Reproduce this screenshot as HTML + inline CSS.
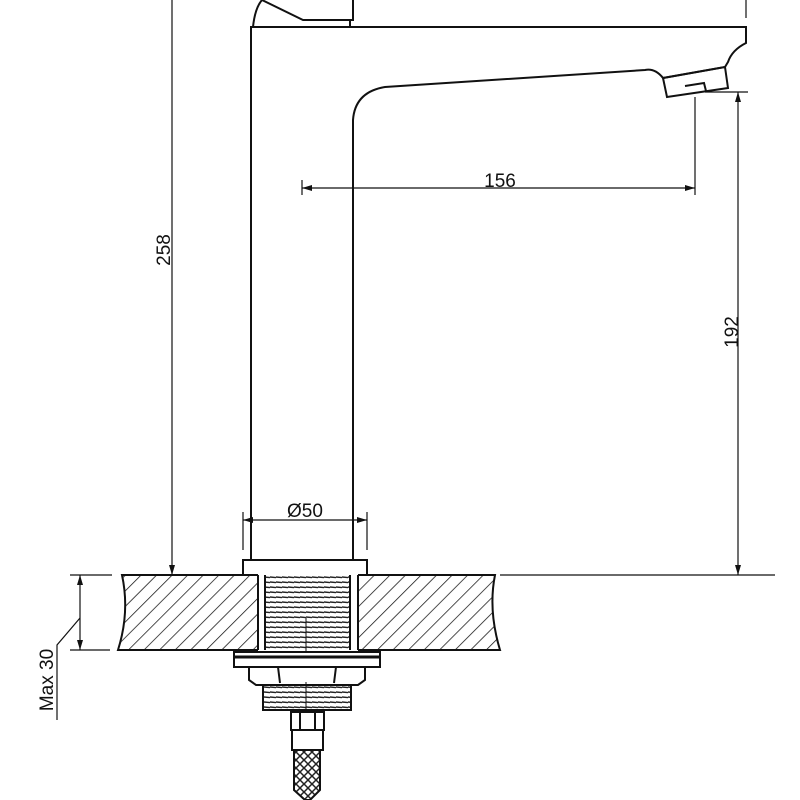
<!DOCTYPE html>
<html><head><meta charset="utf-8"><style>html,body{margin:0;background:#fff}svg{display:block}</style></head><body>
<svg width="800" height="800" viewBox="0 0 800 800" xmlns="http://www.w3.org/2000/svg" font-family="Liberation Sans, sans-serif">
<defs>
<pattern id="h" width="11" height="11" patternUnits="userSpaceOnUse" patternTransform="rotate(45)">
<line x1="0" y1="0" x2="0" y2="11" stroke="#111" stroke-width="1.5"/></pattern>
<pattern id="t" width="6" height="5" patternUnits="userSpaceOnUse">
<line x1="0" y1="2" x2="6" y2="2.6" stroke="#222" stroke-width="1.4"/></pattern>
<pattern id="x" width="8" height="8" patternUnits="userSpaceOnUse">
<path d="M0 0L8 8M8 0L0 8" stroke="#222" stroke-width="1.5"/></pattern>
<marker id="a" markerWidth="10" markerHeight="6" refX="10" refY="3" orient="auto-start-reverse" markerUnits="userSpaceOnUse"><path d="M0 0L10 3L0 6z" fill="#111"/></marker>
</defs>
<g fill="none" stroke="#111" stroke-width="2">
<path d="M253 27 Q255 8 262 0"/>
<path d="M262 0 L303 20 L353 20 L353 0"/>
<path d="M350 20 L350 27"/>
<path d="M251 560 L251 27 L746 27 L746 43 Q732 50 728 62 L725 67 L663 78 Q655 68 645 70 L385 87 Q355 92 353 120 L353 560"/>
<path d="M663 78 L725 67 L728 88 L667 97 Z"/>
<path d="M685 86 L704 83 L706 91"/>
<rect x="243" y="560" width="124" height="15" fill="#fff"/>
</g>
<g stroke="#111" stroke-width="1.2" fill="none">
<line x1="746" y1="0" x2="746" y2="18"/>
<line x1="172" y1="0" x2="172" y2="575" marker-end="url(#a)"/>
<line x1="705" y1="92" x2="748" y2="92"/>
<line x1="738" y1="92" x2="738" y2="575" marker-start="url(#a)" marker-end="url(#a)"/>
<line x1="302" y1="180" x2="302" y2="195"/>
<line x1="695" y1="97" x2="695" y2="195"/>
<line x1="302" y1="188" x2="695" y2="188" marker-start="url(#a)" marker-end="url(#a)"/>
<line x1="243" y1="512" x2="243" y2="550"/>
<line x1="367" y1="512" x2="367" y2="550"/>
<line x1="243" y1="520" x2="367" y2="520" marker-start="url(#a)" marker-end="url(#a)"/>
<line x1="70" y1="575" x2="112" y2="575"/>
<line x1="70" y1="650" x2="110" y2="650"/>
<line x1="80" y1="575" x2="80" y2="650" marker-start="url(#a)" marker-end="url(#a)"/>
<path d="M80 618 L57 645 L57 720"/>
<line x1="500" y1="575" x2="775" y2="575"/>
</g>
<path d="M122 575 L495 575 Q488 610 500 650 L118 650 Q130 612 122 575Z" fill="url(#h)" stroke="#111" stroke-width="2"/>
<rect x="258" y="574" width="100" height="77" fill="#fff"/>
<rect x="265" y="576" width="85" height="74" fill="url(#t)"/>
<g stroke="#111" stroke-width="2" fill="none">
<line x1="258" y1="575" x2="258" y2="650"/><line x1="265" y1="575" x2="265" y2="650"/>
<line x1="350" y1="575" x2="350" y2="650"/><line x1="358" y1="575" x2="358" y2="650"/>
<line x1="306" y1="618" x2="306" y2="652" stroke-width="1"/>
<rect x="234" y="652" width="146" height="15" fill="#fff"/>
<line x1="234" y1="657" x2="380" y2="657" stroke-width="3"/>
<path d="M249 667 L249 680 L256 685 L358 685 L365 680 L365 667"/>
<line x1="278" y1="667" x2="280" y2="683"/><line x1="336" y1="667" x2="334" y2="683"/>
<rect x="263" y="685" width="88" height="25" fill="url(#t)"/>
<line x1="306" y1="682" x2="306" y2="710" stroke-width="1"/>
<rect x="291" y="712" width="33" height="18" fill="#fff"/>
<line x1="300" y1="712" x2="300" y2="730"/><line x1="315" y1="712" x2="315" y2="730"/>
<rect x="292" y="730" width="31" height="20" fill="#fff"/>
<path d="M294 750 L294 790 L305 800 L310 800 L320 790 L320 750Z" fill="url(#x)"/>
</g>
<g fill="#111" font-size="19">
<text x="500" y="187" text-anchor="middle">156</text>
<text x="305" y="517" text-anchor="middle">Ø50</text>
<text transform="translate(170,250) rotate(-90)" text-anchor="middle">258</text>
<text transform="translate(738,332) rotate(-90)" text-anchor="middle">192</text>
<text transform="translate(53,680) rotate(-90)" text-anchor="middle">Max 30</text>
</g>
</svg>
</body></html>
